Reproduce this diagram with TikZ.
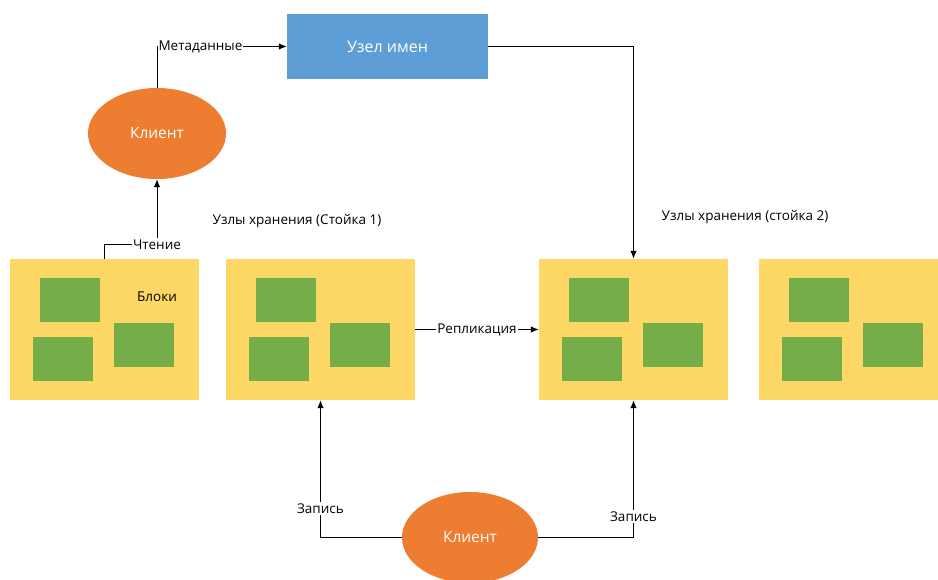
\documentclass[tikz,border=0pt]{standalone}
\usepackage{fontspec}
\setmainfont{Open Sans}
\usetikzlibrary{shapes.geometric,arrows.meta,calc}

\definecolor{nameblue}{HTML}{5E9ED7}
\definecolor{clientorange}{HTML}{ED7D31}
\definecolor{rackyellow}{HTML}{FDD867}
\definecolor{blockgreen}{HTML}{76AF4A}

\tikzset{
  namebox/.style={rectangle, fill=nameblue, minimum width=201pt, minimum height=65pt,
    inner sep=0pt, text=white, font=\fontsize{16}{19}\selectfont},
  client/.style={ellipse, fill=clientorange, minimum width=138pt, minimum height=91pt,
    inner sep=0pt, text=white, font=\fontsize{15.5}{18}\selectfont},
  rack/.style={rectangle, fill=rackyellow, minimum width=189pt, minimum height=141pt, inner sep=0pt},
  blk/.style={rectangle, fill=blockgreen, minimum width=60pt, minimum height=44pt, inner sep=0pt, anchor=north west},
  conn/.style={draw=black, line width=1pt, -{Latex[length=8pt,width=6.5pt]}},
  lbl/.style={fill=white, inner sep=1.5pt, text=black, font=\fontsize{13.5}{16}\selectfont},
  caption/.style={text=black, font=\fontsize{13.5}{16}\selectfont}
}

\begin{document}
\begin{tikzpicture}[x=1pt,y=-1pt]
  \useasboundingbox (0,0) rectangle (938,579);
  \fill[white] (0,0) rectangle (938,579);
  \clip (0,0) rectangle (938,579);

  % name node and the two clients
  \node[namebox] (name) at (387.5,46.5) {Узел имен};
  \node[client] (c1) at (157,133.5) {Клиент};
  \node[client, minimum width=136pt] (c2) at (470,537.5) {Клиент};

  % storage racks
  \node[rack] (b1) at (104.5,329.5) {};
  \node[rack] (b2) at (320.5,329.5) {};
  \node[rack] (b3) at (633.5,329.5) {};
  \node[rack] (b4) at (853.5,329.5) {};

  % three data blocks in every rack
  \foreach \r in {b1,b2,b3,b4} {
    \node[blk] (\r-s1) at ($(\r.north west)+(30,19)$) {};
    \node[blk] (\r-s2) at ($(\r.north west)+(23,78)$) {};
    \node[blk] (\r-s3) at ($(\r.north west)+(104,64)$) {};
  }

  \node[caption] (blocks) at (157,297) {Блоки};
  \node[caption] (rack1) at (297,221) {Узлы хранения (Стойка 1)};
  \node[caption] (rack2) at (745,217) {Узлы хранения (стойка 2)};

  % connectors
  \draw[conn] (c1.north) |- node[lbl, pos=0.5, anchor=west, inner sep=1pt] {Метаданные} (name.west);
  \draw[conn] (b1.north) -- ++(0,-14) -| node[lbl, pos=0.5] {Чтение} (c1.south);
  \draw[conn] (name.east) -| (b3.north);
  \draw[conn] (b2.east) -- node[lbl] {Репликация} (b3.west);
  \draw[conn] (c2.west) -| node[lbl, pos=0.604] {Запись} (b2.south);
  \draw[conn] (c2.east) -| node[lbl, pos=0.575] {Запись} (b3.south);
\end{tikzpicture}
\end{document}
